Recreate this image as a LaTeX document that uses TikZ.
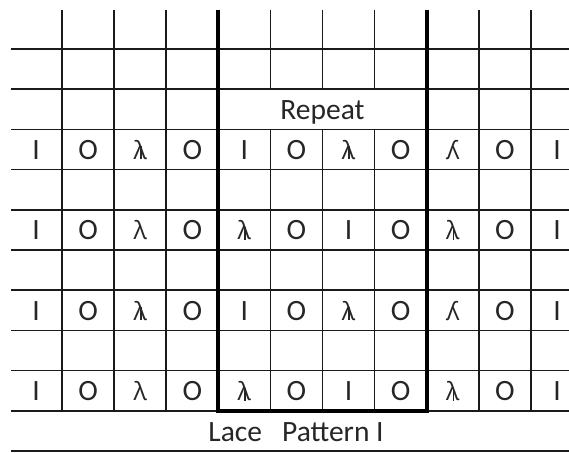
\documentclass[tikz,border=0pt]{standalone}
\usepackage{fontspec}
\setmainfont{Carlito}
\newfontfamily\lamfont{Open Sans}
\usepackage{graphicx}
\definecolor{chartGrid}{HTML}{1A1A1A}
\definecolor{chartInk}{HTML}{262626}

\newcommand\stI{I}
\newcommand\stO{O}
\newcommand\stL{{\lamfont\fontsize{25}{30}\selectfont λ}}
\newcommand\stM{\reflectbox{\stL}}
\newcommand\stS{\makebox[0pt]{\stL}\makebox[0pt]{\hspace{0.04em}\rule{0.06em}{0.44em}}}

\begin{document}
\begin{tikzpicture}[
  x=1pt,y=-1pt,
  gridline/.style={line width=1.7pt,color=chartGrid},
  repeatline/.style={line width=3.8pt,color=black},
  stitch/.style={inner sep=0pt,anchor=base,text=chartInk,font=\fontsize{29.5}{32}\selectfont},
  caption/.style={inner sep=0pt,anchor=base,text=chartInk,font=\fontsize{29.5}{32}\selectfont}
]
\useasboundingbox (0,0) rectangle (569,452);
% rows
\foreach \j in {0,...,10}
  \draw[gridline] (11,{49+40.2*\j}) -- (569,{49+40.2*\j});
% columns
\foreach \k in {0,1,2,8,9}
  \draw[gridline] ({62+52.1*\k},10) -- ({62+52.1*\k},410.8);
\foreach \k in {4,5,6}{
  \draw[gridline] ({62+52.1*\k},10) -- ({62+52.1*\k},89.2);
  \draw[gridline] ({62+52.1*\k},129.4) -- ({62+52.1*\k},410.8);
}
% repeat box
\draw[repeatline] (218.3,10) -- (218.3,410.8) -- (426.7,410.8) -- (426.7,10);
% stitches
\foreach \r/\row in {3/{I,O,S,O,I,O,S,O,M,O,I},5/{I,O,L,O,S,O,I,O,S,O,I},7/{I,O,S,O,I,O,S,O,M,O,I},9/{I,O,L,O,S,O,I,O,S,O,I}}
  \foreach \s [count=\c from 0] in \row
    \node[stitch] (s\r-\c) at ({36+52.1*\c},{159.4+40.2*(\r-3)}) {\csname st\s\endcsname};
\node[caption] (repeat) at (322.5,119.2) {Repeat};
\node[caption] (title) at (296,441.8) {Lace\ \ \ Pattern I};
\end{tikzpicture}
\end{document}
